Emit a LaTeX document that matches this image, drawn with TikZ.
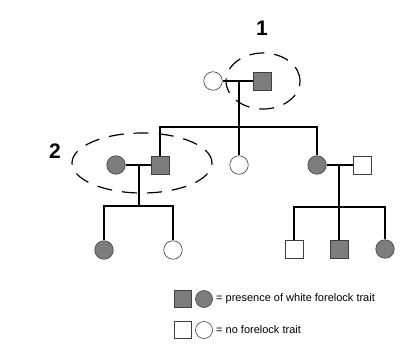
\documentclass[tikz,border=0pt]{standalone}
\usepackage{fontspec}
\setmainfont{Liberation Sans}
\usetikzlibrary{positioning}
\definecolor{traitgray}{RGB}{125,125,125}
\tikzset{
    male/.style={rectangle, draw=black!75, line width=0.6pt, fill=white, minimum size=18pt, inner sep=0pt},
    female/.style={circle, draw=black!75, line width=0.6pt, fill=white, minimum size=18.5pt, inner sep=0pt},
    affected/.style={fill=traitgray},
    tie/.style={line width=1.4pt},
    ring/.style={line width=1.2pt, dash pattern=on 15pt off 10pt},
    gen/.style={font=\bfseries\fontsize{21}{23}\selectfont},
    legtext/.style={anchor=west, font=\fontsize{11}{13}\selectfont, inner sep=0pt}
}
\begin{document}
\begin{tikzpicture}[x=1pt, y=-1pt]
\useasboundingbox (0,0) rectangle (414,350);

% ---- Generation I ----
\node[female] (i1) at (213,81) {};
\node[male, affected] (i2) at (262,81) {};
\coordinate (i12) at (239,81);
\coordinate (s1) at (239,127);
\draw[tie] (i1) -- (i2);
\draw[tie] (i12) -- (s1);

% ---- Generation II ----
\node[female, affected] (ii1) at (116,165) {};
\node[male, affected] (ii2) at (160,165) {};
\node[female] (ii3) at (239,165) {};
\node[female, affected] (ii4) at (317,165) {};
\node[male] (ii5) at (362,165) {};
\draw[tie] (ii2) |- (s1) -| (ii4);
\draw[tie] (s1) -- (ii3);
\draw[tie] (ii1) -- (ii2);
\draw[tie] (ii4) -- (ii5);
\coordinate (c1) at (139,165);
\coordinate (s2) at (139,206);
\coordinate (c2) at (339,165);
\coordinate (s3) at (339,207);
\draw[tie] (c1) -- (s2);
\draw[tie] (c2) -- (s3);

% ---- Generation III ----
\node[female, affected] (iii1) at (104,250) {};
\node[female] (iii2) at (173,250) {};
\node[male] (iii3) at (294,249) {};
\node[male, affected] (iii4) at (339,249) {};
\node[female, affected] (iii5) at (385,249) {};
\draw[tie] (iii1) |- (s2) -| (iii2);
\draw[tie] (iii3) |- (s3) -| (iii5);
\draw[tie] (s3) -- (iii4);

% ---- marked couples ----
\draw[ring] (263,81) ellipse [x radius=37pt, y radius=28pt];
\draw[ring] (142,163) ellipse [x radius=70pt, y radius=30pt];
\node[gen] (n1) at (262,28) {1};
\node[gen] (n2) at (55,151) {2};

% ---- legend ----
\node[male, affected, minimum size=17pt] (k1) at (183,299) {};
\node[female, affected, minimum size=17pt] (k2) at (204,299) {};
\node[legtext] (t1) at (216,299) {= presence of white forelock trait};
\node[male, minimum size=17pt] (k3) at (183,330) {};
\node[female, minimum size=17pt] (k4) at (204,330) {};
\node[legtext] (t2) at (216,330) {= no forelock trait};

\end{tikzpicture}
\end{document}
